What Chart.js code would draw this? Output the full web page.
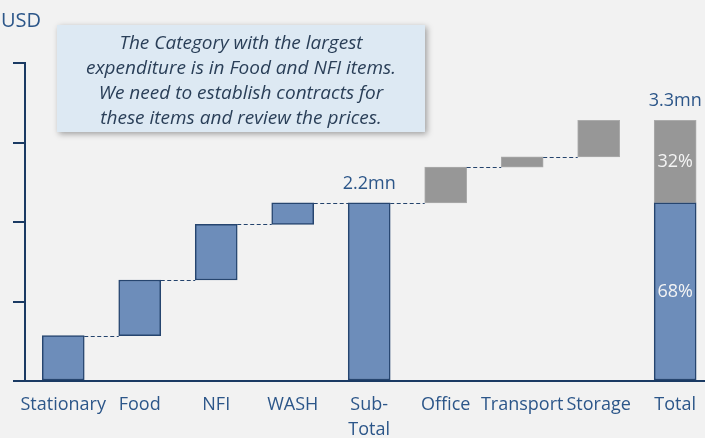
<!DOCTYPE html>
<html>
<head>
<meta charset="utf-8">
<script src="https://cdn.jsdelivr.net/npm/chart.js@4"></script>
<style>
  html, body { margin: 0; padding: 0; background: #f2f2f2; }
  #wrap { position: relative; width: 705px; height: 438px; }
</style>
</head>
<body>
<div id="wrap"><canvas id="waterfall" width="705" height="438"></canvas></div>
<script>
// values in mn USD
var categories = ['Stationary', 'Food', 'NFI', 'WASH', ['Sub-', 'Total'], 'Office', 'Transport', 'Storage', 'Total'];
var programmeCosts = [0.57, 0.70, 0.70, 0.27];   // Stationary, Food, NFI, WASH
var supportCosts = [0.45, 0.13, 0.46];           // Office, Transport, Storage
var yTicks = [0, 1, 2, 3, 4];
var unitLabel = 'USD';
var noteLines = [
  'The Category with the largest',
  'expenditure is in Food and NFI items.',
  'We need to establish contracts for',
  'these items and review the prices.'
];

var NAVY = '#1b3a63';
var TEXT = '#2c5689';
var FONT = '"Open Sans", Lato, sans-serif';

// build the floating bars of the waterfall
var blueBars = [], greyBars = [], levels = [];
var run = 0;
programmeCosts.forEach(function (v, i) {
  blueBars.push({ x: i, y: [run, run + v] });
  run += v;
  levels.push(run);
});
var subTotal = run;
blueBars.push({ x: 4, y: [0, subTotal] });
levels.push(subTotal);
supportCosts.forEach(function (v, j) {
  greyBars.push({ x: 5 + j, y: [run, run + v] });
  run += v;
  levels.push(run);
});
var total = run;
blueBars.push({ x: 8, y: [0, subTotal] });
greyBars.push({ x: 8, y: [subTotal, total] });

var decor = {
  id: 'decor',
  afterDatasetsDraw: function (chart) {
    var ctx = chart.ctx, xs = chart.scales.x, ys = chart.scales.y;
    var half = 21;
    ctx.save();
    // dashed connectors
    ctx.strokeStyle = '#24436c';
    ctx.lineWidth = 1;
    ctx.setLineDash([4, 2.5]);
    for (var i = 0; i < levels.length - 1; i++) {
      var y = Math.round(ys.getPixelForValue(levels[i])) + 0.5;
      ctx.beginPath();
      ctx.moveTo(xs.getPixelForValue(i) + half, y);
      ctx.lineTo(xs.getPixelForValue(i + 1) - half, y);
      ctx.stroke();
    }
    ctx.setLineDash([]);
    // value labels
    ctx.textAlign = 'center';
    ctx.textBaseline = 'middle';
    ctx.fillStyle = TEXT;
    ctx.font = '18px ' + FONT;
    ctx.fillText(subTotal.toFixed(1) + 'mn', xs.getPixelForValue(4), ys.getPixelForValue(subTotal) - 19);
    ctx.fillText(total.toFixed(1) + 'mn', xs.getPixelForValue(8), ys.getPixelForValue(total) - 19);
    ctx.fillStyle = '#f4f4f4';
    ctx.font = '18px ' + FONT;
    var pctSub = Math.round(subTotal / total * 100);
    ctx.fillText((100 - pctSub) + '%', xs.getPixelForValue(8), (ys.getPixelForValue(subTotal) + ys.getPixelForValue(total)) / 2);
    ctx.fillText(pctSub + '%', xs.getPixelForValue(8), (ys.getPixelForValue(0) + ys.getPixelForValue(subTotal)) / 2);
    ctx.restore();
  },
  afterDraw: function (chart) {
    var ctx = chart.ctx;
    ctx.save();
    ctx.fillStyle = TEXT;
    ctx.font = '20px ' + FONT;
    ctx.textAlign = 'left';
    ctx.textBaseline = 'alphabetic';
    ctx.fillText(unitLabel, 1, 27);
    // note box
    ctx.shadowColor = 'rgba(0,0,0,0.35)';
    ctx.shadowBlur = 6;
    ctx.shadowOffsetX = 2;
    ctx.shadowOffsetY = 2;
    ctx.fillStyle = '#dde9f3';
    ctx.fillRect(57, 25, 368, 107);
    ctx.shadowColor = 'transparent';
    ctx.fillStyle = '#2a3f58';
    ctx.font = 'italic 19px ' + FONT;
    ctx.textAlign = 'center';
    noteLines.forEach(function (t, k) {
      ctx.fillText(t, 241, 48.5 + k * 25.3);
    });
    ctx.restore();
  }
};

new Chart(document.getElementById('waterfall'), {
  type: 'bar',
  data: {
    datasets: [{
      data: blueBars,
      backgroundColor: '#6d8dba',
      borderColor: '#26456f',
      borderWidth: 1.5,
      borderSkipped: false,
      barThickness: 42,
      grouped: false
    }, {
      data: greyBars,
      backgroundColor: '#979797',
      borderColor: '#ababab',
      borderWidth: 1,
      borderSkipped: false,
      barThickness: 42,
      grouped: false
    }]
  },
  options: {
    responsive: false,
    animation: false,
    layout: { padding: { left: 13, top: 63, right: 0, bottom: 0 } },
    plugins: { legend: { display: false }, tooltip: { enabled: false } },
    scales: {
      x: {
        type: 'linear',
        offset: false,
        min: -0.5,
        max: 8.39,
        afterBuildTicks: function (s) { s.ticks = categories.map(function (c, i) { return { value: i }; }); },
        afterFit: function (s) { s.height = 57; },
        grid: { display: false, offset: false },
        border: { display: true, color: NAVY, width: 2 },
        ticks: {
          autoSkip: false, maxRotation: 0, minRotation: 0, padding: 3,
          color: TEXT,
          font: { family: FONT, size: 18, lineHeight: 1.4 },
          callback: function (v) { return categories[v]; }
        }
      },
      y: {
        min: 0,
        max: 4,
        afterBuildTicks: function (s) { s.ticks = yTicks.map(function (v) { return { value: v }; }); },
        afterFit: function (s) { s.width = 12; },
        ticks: { display: false },
        grid: { drawOnChartArea: false, drawTicks: true, tickLength: 12, color: NAVY, lineWidth: 2 },
        border: { display: true, color: NAVY, width: 2 }
      }
    }
  },
  plugins: [decor]
});
</script>
</body>
</html>
